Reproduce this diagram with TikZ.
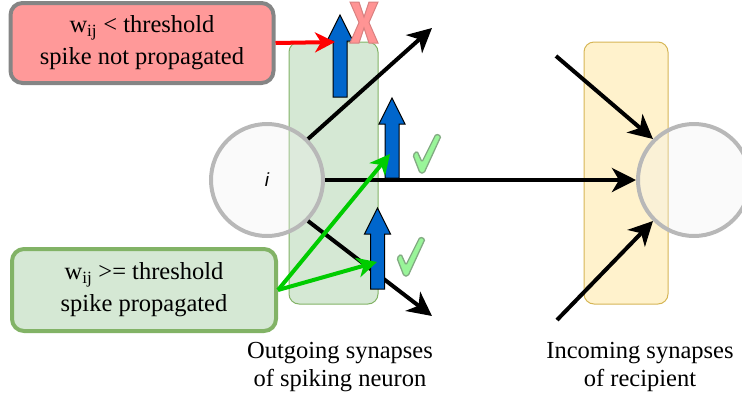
\documentclass[tikz,border=0pt]{standalone}
\usepackage{fontspec}
\setmainfont{Liberation Serif}
\newfontfamily\labelsans{Liberation Sans}
\usetikzlibrary{arrows.meta}
\definecolor{gfill}{HTML}{D5E8D4}
\definecolor{gstroke}{HTML}{82B366}
\definecolor{yfill}{HTML}{FFF2CC}
\definecolor{ystroke}{HTML}{D6B656}
\definecolor{rfill}{HTML}{FF9999}
\definecolor{rstroke}{HTML}{858585}
\definecolor{ngray}{HTML}{B8B8B8}
\definecolor{nfill}{HTML}{F0F0F0}
\definecolor{bfill}{HTML}{0066CC}
\definecolor{garrow}{HTML}{00CC00}
\definecolor{chkfill}{HTML}{99F599}
\definecolor{chkline}{HTML}{82AA82}
\definecolor{xfill}{HTML}{FF9494}
\definecolor{xline}{HTML}{D98080}
\newcommand\blueup[3]{\draw[bluearr] ({#1-7},#3) -- ({#1-7},{#2+26}) -- ({#1-13},{#2+26}) -- (#1,#2) -- ({#1+13},{#2+26}) -- ({#1+7},{#2+26}) -- ({#1+7},#3) -- cycle;}
\newcommand\checkmk[2]{\draw[checkst,shift={(#1,#2)}] (0,22) -- (4,18) -- (9,29) -- (23,1) -- (28,3) -- (11,40) -- (7,40) -- cycle;}
\begin{document}
\begin{tikzpicture}[x=1pt,y=-1pt,
  lbl/.style={font=\fontsize{24.5}{28}\selectfont, align=center, inner sep=0pt},
  boxtext/.style={font=\fontsize{24.5}{32}\selectfont, align=center, inner sep=0pt, rounded corners=12pt, line width=4pt},
  column/.style={rounded corners=10pt, line width=1pt},
  neuron/.style={circle, minimum size=112pt, inner sep=0pt, line width=4pt, draw=ngray, fill=nfill, fill opacity=0.3, text opacity=1},
  syn/.style={line width=4pt, -{Stealth[length=24pt,width=24pt,inset=7pt]}},
  green/.style={line width=4pt, draw=garrow, -{Stealth[length=20pt,width=20pt,inset=6pt,fill=garrow]}},
  redarr/.style={line width=4pt, draw=red, -{Stealth[length=20pt,width=20pt,inset=6pt,fill=red]}},
  bluearr/.style={fill=bfill, draw=black, line width=1pt, line join=miter},
  checkst/.style={fill=chkfill, draw=chkline, line width=1.3pt, rounded corners=1.5pt},
  xst/.style={fill=xfill, draw=xline, line width=1pt}]
\useasboundingbox (0,0) rectangle (742,400);
% columns
\draw[column, fill=gfill, draw=gstroke] (289,42) rectangle (378,304);
\draw[column, fill=yfill, draw=ystroke] (584,42) rectangle (668,304);
% neurons
\node[neuron] (i) at (267,180) {\fontsize{19}{19}\labelsans\itshape i};
\node[neuron] (r) at (694,180) {};
% free ends
\coordinate (o1) at (432,28);
\coordinate (o3) at (432,316);
\coordinate (in1) at (556,56);
\coordinate (in3) at (557,320);
% synapse arrows
\draw[syn] (i.45) -- (o1);
\draw[syn] (i.east) -- (r.west);
\draw[syn] (i.-45) -- (o3);
\draw[syn] (in1) -- (r.135);
\draw[syn] (in3) -- (r.-135);
% blue arrows
\blueup{340}{15}{97}
\blueup{392}{98}{178}
\blueup{377.5}{208}{289}
\coordinate (b2) at (390,154);
\coordinate (b3) at (377,262);
\coordinate (b1) at (335,42);
% boxes
\node[boxtext, fill=rfill, draw=rstroke, minimum width=263pt, minimum height=80pt] (rb) at (142,43) {w\textsubscript{ij} < threshold\\spike not propagated};
\node[boxtext, fill=gfill, draw=gstroke, minimum width=264pt, minimum height=82pt] (gb) at (144,290) {w\textsubscript{ij} >= threshold\\spike propagated};
% pointer arrows
\draw[redarr] (rb.east) -- (b1);
\draw[green] (gb.east) -- (b2);
\draw[green] (gb.east) -- (b3);
% X and checks
\draw[xst, shift={(350,2)}] (0,0) -- (9,0) -- (14,15) -- (19,0) -- (28,0) -- (19,20.5) -- (28,41) -- (19,41) -- (14,26) -- (9,41) -- (0,41) -- (9,20.5) -- cycle;
\checkmk{413}{133}
\checkmk{397}{236}
% labels
\node[lbl] (lo) at (340,367) {Outgoing synapses\\of spiking neuron};
\node[lbl] (li) at (640,367) {Incoming synapses\\of recipient};
\end{tikzpicture}
\end{document}
